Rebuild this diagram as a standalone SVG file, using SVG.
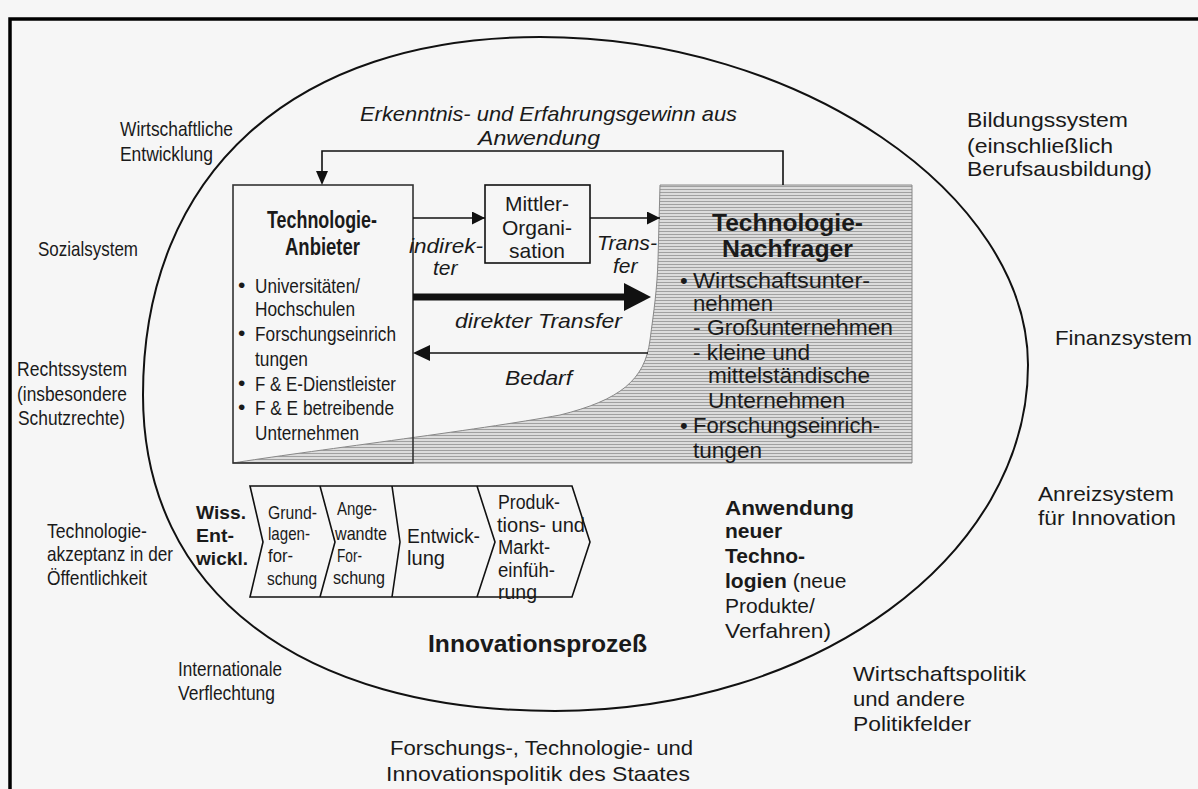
<svg xmlns="http://www.w3.org/2000/svg" width="1198" height="789" viewBox="0 0 1198 789">
<style>
text{font-family:"Liberation Sans",Arial,sans-serif;fill:#1a1a1a}
.o{font-size:21px}
.b{font-weight:bold}
.i{font-style:italic;font-size:21px}
.n{font-size:22px}
.a{font-size:21px}
.c{font-size:18.5px}
.ln{fill:none;stroke:#111;stroke-width:1.6}
</style>
<defs>
<pattern id="hatch" width="4" height="3" patternUnits="userSpaceOnUse"><rect width="4" height="3" fill="#dcdcdc"/><rect width="4" height="1" fill="#a0a0a0"/></pattern>
<marker id="ah" viewBox="0 0 10 10" refX="10" refY="5" markerWidth="15" markerHeight="13" markerUnits="userSpaceOnUse" orient="auto"><path d="M0,0 L10,5 L0,10 Z" fill="#111"/></marker>
</defs>
<rect width="1198" height="789" fill="#f6f6f6"/>
<path d="M1198,19 H10 V789" fill="none" stroke="#000" stroke-width="3.5"/>
<path id="umfeld" d="M143,395 C143,173 294,37 540,37 C800,37 1028,195 1028,365 C1028,556 816,711 555,711 C300,711 143,591 143,395 Z" fill="none" stroke="#111" stroke-width="2"/>

<g id="nachfrager">
<path d="M233,463 C300,452 480,430 560,415 C620,400 645,380 650,340 C654,310 657,290 658,260 L660,185 L912,185 L912,463 Z" fill="url(#hatch)" stroke="#888" stroke-width="1"/>
<text class="b" x="712" y="230.6" font-size="24" textLength="151" lengthAdjust="spacingAndGlyphs">Technologie-</text>
<text class="b" x="722" y="256.6" font-size="24" textLength="131" lengthAdjust="spacingAndGlyphs">Nachfrager</text>
<text class="n" x="680" y="288">•</text>
<text class="n" x="693" y="288" textLength="177" lengthAdjust="spacingAndGlyphs">Wirtschaftsunter-</text>
<text class="n" x="693" y="311" textLength="80" lengthAdjust="spacingAndGlyphs">nehmen</text>
<text class="n" x="693" y="335" textLength="200" lengthAdjust="spacingAndGlyphs">- Großunternehmen</text>
<text class="n" x="693" y="360" textLength="117" lengthAdjust="spacingAndGlyphs">- kleine und</text>
<text class="n" x="708" y="383" textLength="162" lengthAdjust="spacingAndGlyphs">mittelständische</text>
<text class="n" x="708" y="408" textLength="137" lengthAdjust="spacingAndGlyphs">Unternehmen</text>
<text class="n" x="680" y="433">•</text>
<text class="n" x="693" y="433" textLength="187" lengthAdjust="spacingAndGlyphs">Forschungseinrich-</text>
<text class="n" x="693" y="458" textLength="69" lengthAdjust="spacingAndGlyphs">tungen</text>
</g>

<g id="anbieter">
<rect x="233" y="185" width="180" height="278" fill="none" stroke="#333" stroke-width="1.6"/>
<text class="b" x="267" y="228" font-size="23" textLength="110" lengthAdjust="spacingAndGlyphs">Technologie-</text>
<text class="b" x="285" y="255" font-size="23" textLength="75" lengthAdjust="spacingAndGlyphs">Anbieter</text>
<text class="a" x="238" y="292">•</text>
<text class="a" x="255" y="292.5" textLength="105" lengthAdjust="spacingAndGlyphs">Universitäten/</text>
<text class="a" x="255" y="315.5" textLength="100" lengthAdjust="spacingAndGlyphs">Hochschulen</text>
<text class="a" x="238" y="340">•</text>
<text class="a" x="255" y="340.5" textLength="141" lengthAdjust="spacingAndGlyphs">Forschungseinrich</text>
<text class="a" x="255" y="365.5" textLength="53" lengthAdjust="spacingAndGlyphs">tungen</text>
<text class="a" x="238" y="390">•</text>
<text class="a" x="255" y="390.5" textLength="141" lengthAdjust="spacingAndGlyphs">F &amp; E-Dienstleister</text>
<text class="a" x="238" y="414">•</text>
<text class="a" x="255" y="414.5" textLength="139" lengthAdjust="spacingAndGlyphs">F &amp; E betreibende</text>
<text class="a" x="255" y="439.5" textLength="104" lengthAdjust="spacingAndGlyphs">Unternehmen</text>
</g>

<g id="mittler">
<rect x="485" y="185" width="105" height="78" fill="none" stroke="#111" stroke-width="1.6"/>
<text x="537" y="210.5" font-size="21" text-anchor="middle">Mittler-</text>
<text x="537" y="234.5" font-size="21" text-anchor="middle">Organi-</text>
<text x="537" y="257.5" font-size="21" text-anchor="middle">sation</text>
</g>

<g id="connectors">
<path class="ln" d="M783,185 V151 H322 V172"/>
<path d="M316,171 L328,171 L322,185 Z" fill="#111"/>
<line class="ln" x1="413" y1="218" x2="485" y2="218" marker-end="url(#ah)"/>
<line class="ln" x1="590" y1="218" x2="660" y2="218" marker-end="url(#ah)"/>
<line x1="413" y1="297" x2="628" y2="297" stroke="#111" stroke-width="7"/>
<path d="M624,283 L651,297 L624,311 Z" fill="#111"/>
<line class="ln" x1="648" y1="353" x2="428" y2="353"/>
<path d="M430,345 L413,353 L430,361 Z" fill="#111"/>
</g>

<g id="labels">
<text class="i" x="360" y="120.5" textLength="377" lengthAdjust="spacingAndGlyphs">Erkenntnis- und Erfahrungsgewinn aus</text>
<text class="i" x="478" y="144.5" textLength="122" lengthAdjust="spacingAndGlyphs">Anwendung</text>
<text class="i" x="409" y="252.5" textLength="74" lengthAdjust="spacingAndGlyphs">indirek-</text>
<text class="i" x="433" y="274.5">ter</text>
<text class="i" x="597" y="249.5" textLength="60" lengthAdjust="spacingAndGlyphs">Trans-</text>
<text class="i" x="613" y="272.5">fer</text>
<text class="i" x="455" y="327.5" textLength="167" lengthAdjust="spacingAndGlyphs">direkter Transfer</text>
<text class="i" x="505" y="384.5" textLength="67" lengthAdjust="spacingAndGlyphs">Bedarf</text>
</g>

<g id="prozess">
<path d="M250,486 H572 L590,542 L572,597 H250 L263,542 Z" fill="none" stroke="#111" stroke-width="1.6"/>
<path class="ln" d="M320,486 L335,542 L320,597 M392,486 L400,542 L392,597 M477,486 L495,542 L477,597"/>
<text class="c b" x="196" y="518.5" textLength="50" lengthAdjust="spacingAndGlyphs">Wiss.</text>
<text class="c b" x="196" y="541.5" textLength="38" lengthAdjust="spacingAndGlyphs">Ent-</text>
<text class="c b" x="196" y="564.5" textLength="52" lengthAdjust="spacingAndGlyphs">wickl.</text>
<text class="c" x="268" y="518.5" textLength="49" lengthAdjust="spacingAndGlyphs">Grund-</text>
<text class="c" x="268" y="539.5" textLength="42" lengthAdjust="spacingAndGlyphs">lagen-</text>
<text class="c" x="268" y="561.5" textLength="25" lengthAdjust="spacingAndGlyphs">for-</text>
<text class="c" x="267" y="584.5" textLength="50" lengthAdjust="spacingAndGlyphs">schung</text>
<text class="c" x="337" y="514.5" textLength="40" lengthAdjust="spacingAndGlyphs">Ange-</text>
<text class="c" x="335" y="539.5" textLength="52" lengthAdjust="spacingAndGlyphs">wandte</text>
<text class="c" x="337" y="561.5" textLength="25" lengthAdjust="spacingAndGlyphs">For-</text>
<text class="c" x="333" y="583.5" textLength="52" lengthAdjust="spacingAndGlyphs">schung</text>
<text x="407" y="542.5" font-size="21" textLength="73" lengthAdjust="spacingAndGlyphs">Entwick-</text>
<text x="407" y="564.5" font-size="21" textLength="38" lengthAdjust="spacingAndGlyphs">lung</text>
<text x="498" y="509" font-size="20" textLength="62" lengthAdjust="spacingAndGlyphs">Produk-</text>
<text x="497" y="532" font-size="20" textLength="88" lengthAdjust="spacingAndGlyphs">tions- und</text>
<text x="498" y="554" font-size="20" textLength="52" lengthAdjust="spacingAndGlyphs">Markt-</text>
<text x="498" y="577" font-size="20" textLength="57" lengthAdjust="spacingAndGlyphs">einfüh-</text>
<text x="498" y="599" font-size="20" textLength="39" lengthAdjust="spacingAndGlyphs">rung</text>
<text class="b" x="428" y="651.5" font-size="23" textLength="219" lengthAdjust="spacingAndGlyphs">Innovationsprozeß</text>
</g>

<g id="anwendung" font-size="21">
<text class="b" x="725" y="514.5" textLength="129" lengthAdjust="spacingAndGlyphs">Anwendung</text>
<text class="b" x="725" y="537.5">neuer</text>
<text class="b" x="725" y="562.5">Techno-</text>
<text x="725" y="587.5"><tspan font-weight="bold">logien</tspan> (neue</text>
<text x="725" y="612.5">Produkte/</text>
<text x="725" y="637.5" textLength="106" lengthAdjust="spacingAndGlyphs">Verfahren)</text>
</g>

<g id="umfeld-labels">
<text class="o" x="120" y="135.5" textLength="113" lengthAdjust="spacingAndGlyphs">Wirtschaftliche</text>
<text class="o" x="120" y="160.5" textLength="93" lengthAdjust="spacingAndGlyphs">Entwicklung</text>
<text class="o" x="38" y="255.5" textLength="100" lengthAdjust="spacingAndGlyphs">Sozialsystem</text>
<text class="o" x="17" y="375.5" textLength="110" lengthAdjust="spacingAndGlyphs">Rechtssystem</text>
<text class="o" x="17" y="400.5" textLength="110" lengthAdjust="spacingAndGlyphs">(insbesondere</text>
<text class="o" x="18" y="424.5" textLength="107" lengthAdjust="spacingAndGlyphs">Schutzrechte)</text>
<text class="o" x="47" y="537.5" textLength="100" lengthAdjust="spacingAndGlyphs">Technologie-</text>
<text class="o" x="47" y="560.5" textLength="126" lengthAdjust="spacingAndGlyphs">akzeptanz in der</text>
<text class="o" x="47" y="584.5" textLength="100" lengthAdjust="spacingAndGlyphs">Öffentlichkeit</text>
<text class="o" x="178" y="675.5" textLength="104" lengthAdjust="spacingAndGlyphs">Internationale</text>
<text class="o" x="178" y="699.5" textLength="97" lengthAdjust="spacingAndGlyphs">Verflechtung</text>
<text class="o" x="967" y="126.5" textLength="161" lengthAdjust="spacingAndGlyphs">Bildungssystem</text>
<text class="o" x="967" y="152.5" textLength="146" lengthAdjust="spacingAndGlyphs">(einschließlich</text>
<text class="o" x="967" y="175.5" textLength="185" lengthAdjust="spacingAndGlyphs">Berufsausbildung)</text>
<text class="o" x="1055" y="344.5" textLength="137" lengthAdjust="spacingAndGlyphs">Finanzsystem</text>
<text class="o" x="1038" y="500.5" textLength="136" lengthAdjust="spacingAndGlyphs">Anreizsystem</text>
<text class="o" x="1038" y="524.5" textLength="138" lengthAdjust="spacingAndGlyphs">für Innovation</text>
<text class="o" x="853" y="680.5" textLength="173" lengthAdjust="spacingAndGlyphs">Wirtschaftspolitik</text>
<text class="o" x="853" y="705.5" textLength="112" lengthAdjust="spacingAndGlyphs">und andere</text>
<text class="o" x="853" y="730.5" textLength="118" lengthAdjust="spacingAndGlyphs">Politikfelder</text>
<text class="o" x="390" y="754.5" textLength="303" lengthAdjust="spacingAndGlyphs">Forschungs-, Technologie- und</text>
<text class="o" x="386" y="780.5" textLength="304" lengthAdjust="spacingAndGlyphs">Innovationspolitik des Staates</text>
</g>
</svg>
